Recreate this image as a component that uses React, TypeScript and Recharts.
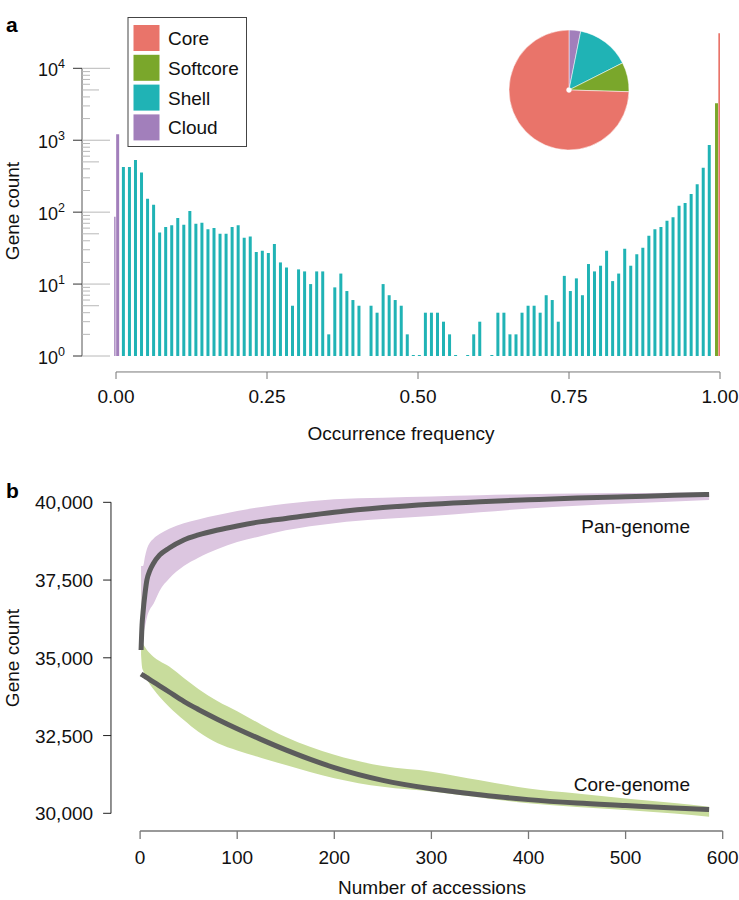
import React from "react";
import {
  ComposedChart,
  Bar,
  Cell,
  Area,
  Line,
  XAxis,
  YAxis,
  ReferenceLine,
  PieChart,
  Pie,
} from "recharts";

const FONT = "'Liberation Sans', Arial, Helvetica, sans-serif";

// ---- panel a: gene counts by occurrence frequency ----
const CATEGORIES = ["Core", "Softcore", "Shell", "Cloud"];
const CATEGORY_COLORS: Record<string, string> = {
  Core: "#e9746a",
  Softcore: "#7aa72b",
  Shell: "#20b3b5",
  Cloud: "#a27fbb",
};

const CLOUD_FREQ = [-0.003, 0.003];
const CLOUD_COUNTS = [86, 1210];

// one bin per 1% of accessions, bins 1..98 (null = empty bin)
const SHELL_COUNTS: (number | null)[] = [
  425, 425, 532, 355, 154, 127, 52, 62, 66, 83,
  67, 104, 69, 71, 58, 60, 50, 50, 62, 66,
  44, 46, 28, 29, 27, 36, 20, 17, 5, 16,
  15, 10, 15, 15, 2, 9, 14, 8, 6, 5,
  null, 5, 4, 10, 7, 6, 5, 2, 1, 1,
  4, 4, 4, 3, 2, 1, null, 1, 2, 3,
  null, 1, 4, 4, 2, 2, 4, 5, 5, 4,
  7, 6, 3, 13, 8, 12, 7, 19, 15, 18,
  29, 11, 14, 31, 18, 26, 32, 47, 58, 62,
  76, 85, 123, 134, 179, 244, 416, 860,
];
const SHELL_FREQ = SHELL_COUNTS.map((_, i) => (i + 1.25) / 100);

const SOFTCORE_FREQ = [0.9945];
const SOFTCORE_COUNTS = [3270];
const CORE_FREQ = [1.0];
const CORE_COUNTS = [30800];

const FREQ_TICKS = [0, 0.25, 0.5, 0.75, 1];
const DECADES = [1, 10, 100, 1000];
const LOG_TICKS = [
  ...DECADES.flatMap((d) => [1, 2, 3, 4, 5, 6, 7, 8, 9].map((m) => m * d)),
  10000,
];

// ---- panel b: pan / core genome accumulation ----
const ACCESSIONS = [
  1, 2, 3, 5, 7, 10, 14, 20, 30, 45, 60, 80, 100, 125, 150, 200, 250, 300,
  350, 400, 450, 500, 550, 586,
];
const PAN_MEAN = [
  35250, 36050, 36450, 37050, 37500, 37800, 38050, 38300, 38530, 38790, 38950,
  39110, 39240, 39380, 39480, 39680, 39830, 39940, 40020, 40080, 40135, 40180,
  40225, 40255,
];
const PAN_MIN = [
  35100, 35500, 35700, 36000, 36300, 36550, 36750, 37150, 37550, 37950, 38220,
  38500, 38720, 38920, 39100, 39330, 39460, 39560, 39680, 39800, 39890, 39960,
  40030, 40075,
];
const PAN_MAX = [
  37950, 37950, 37950, 38250, 38500, 38700, 38840, 38980, 39150, 39330, 39450,
  39590, 39720, 39850, 39950, 40100, 40150, 40190, 40230, 40260, 40280, 40300,
  40310, 40320,
];
const CORE_MEAN = [
  34480, 34460, 34440, 34400, 34360, 34300, 34220, 34100, 33900, 33600, 33340,
  33020, 32720, 32370, 32040, 31470, 31060, 30790, 30600, 30440, 30330, 30250,
  30170, 30120,
];
const CORE_MIN = [
  35100, 34700, 34600, 34450, 34300, 34150, 33980, 33750, 33420, 33000, 32620,
  32250, 32020, 31780, 31550, 31130, 30850, 30700, 30510, 30320, 30200, 30110,
  29990, 29890,
];
const CORE_MAX = [
  37950, 35550, 35450, 35350, 35250, 35150, 35030, 34900, 34720, 34350, 34000,
  33600, 33280, 32850, 32450, 31880, 31520, 31340, 31060, 30800, 30640, 30480,
  30330, 30210,
];
const ACC_TICKS = [0, 100, 200, 300, 400, 500, 600];
const COUNT_TICKS = [30000, 32500, 35000, 37500, 40000];

const barData = [
  ...CLOUD_FREQ.map((f, i) => ({ freq: f, count: CLOUD_COUNTS[i], cat: "Cloud" })),
  ...SHELL_FREQ.map((f, i) => ({ freq: f, count: SHELL_COUNTS[i], cat: "Shell" })),
  ...SOFTCORE_FREQ.map((f, i) => ({ freq: f, count: SOFTCORE_COUNTS[i], cat: "Softcore" })),
  ...CORE_FREQ.map((f, i) => ({ freq: f, count: CORE_COUNTS[i], cat: "Core" })),
].filter((d) => d.count != null);

const total = (a: (number | null)[]) => a.reduce((s: number, v) => s + (v ?? 0), 0);
const pieData = [
  { name: "Cloud", value: total(CLOUD_COUNTS) },
  { name: "Shell", value: total(SHELL_COUNTS) },
  { name: "Softcore", value: total(SOFTCORE_COUNTS) },
  { name: "Core", value: total(CORE_COUNTS) },
];

const curveData = ACCESSIONS.map((n, i) => ({
  n,
  pan: PAN_MEAN[i],
  panRange: [PAN_MIN[i], PAN_MAX[i]],
  core: CORE_MEAN[i],
  coreRange: [CORE_MIN[i], CORE_MAX[i]],
}));

function LogTick({ x, y, payload }: any) {
  const v = payload.value;
  const lg = Math.log10(v);
  const exp = Math.round(lg);
  const major = Math.abs(lg - exp) < 1e-9;
  if (major) {
    return (
      <g>
        <line x1={x - 9} x2={x} y1={y} y2={y} stroke="#333" />
        <line x1={x} x2={x + 28} y1={y} y2={y} stroke="#b8b8b8" />
        <text x={x - 17} y={y + 8} textAnchor="end" fontSize={18} fontFamily={FONT} fill="#111">
          10<tspan dy={-8} fontSize={12.5}>{exp}</tspan>
        </text>
      </g>
    );
  }
  const mant = Math.round(v / 10 ** Math.floor(lg + 1e-9));
  return <line x1={x} x2={x + (mant === 5 ? 17 : 8)} y1={y} y2={y} stroke="#b8b8b8" />;
}

function FreqTick({ x, y, payload }: any) {
  return (
    <g>
      <line x1={x} x2={x} y1={y + 16} y2={y + 23} stroke="#777" />
      <text x={x} y={y + 47} textAnchor="middle" fontSize={19} fontFamily={FONT} fill="#111">
        {payload.value.toFixed(2)}
      </text>
    </g>
  );
}

function CountTick({ x, y, payload }: any) {
  return (
    <g>
      <line x1={x - 37} x2={x - 29} y1={y} y2={y} stroke="#222" />
      <text x={x - 47} y={y + 7} textAnchor="end" fontSize={19} fontFamily={FONT} fill="#111">
        {payload.value.toLocaleString("en-US")}
      </text>
    </g>
  );
}

function AccTick({ x, y, payload }: any) {
  return (
    <text x={x} y={y + 25} textAnchor="middle" fontSize={19} fontFamily={FONT} fill="#111">
      {payload.value}
    </text>
  );
}

export default function App() {
  return (
    <div style={{ position: "absolute", left: 0, top: 0, width: 739, height: 900, background: "#fff" }}>
      {/* a: frequency histogram */}
      <div style={{ position: "absolute", left: 0, top: 0 }}>
        <ComposedChart width={739} height={460} data={barData} margin={{ top: 20, right: 14, bottom: 44, left: 22 }}>
          <XAxis
            type="number"
            dataKey="freq"
            domain={[-0.003, 1]}
            allowDataOverflow
            padding={{ left: 32.2, right: 5 }}
            ticks={FREQ_TICKS}
            interval={0}
            tick={<FreqTick />}
            tickSize={0}
            tickMargin={0}
            axisLine={false}
            tickLine={false}
            height={60}
          />
          <YAxis
            type="number"
            scale="log"
            domain={[1, 46950]}
            allowDataOverflow
            ticks={LOG_TICKS}
            interval={0}
            tick={<LogTick />}
            tickSize={0}
            tickMargin={0}
            axisLine={false}
            tickLine={false}
            width={60}
          />
          <ReferenceLine segment={[{ x: -0.0563, y: 1 }, { x: -0.0563, y: 10000 }]} stroke="#555" ifOverflow="visible" />
          <ReferenceLine segment={[{ x: 0, y: 0.6 }, { x: 1, y: 0.6 }]} stroke="#777" ifOverflow="visible" />
          <Bar dataKey="count" barSize={3} minPointSize={1} isAnimationActive={false}>
            {barData.map((d, i) => (
              <Cell key={i} fill={CATEGORY_COLORS[d.cat]} />
            ))}
          </Bar>
        </ComposedChart>
      </div>

      {/* inset pie */}
      <div style={{ position: "absolute", left: 499, top: 20 }}>
        <PieChart width={140} height={140}>
          <Pie
            data={pieData}
            dataKey="value"
            cx="50%"
            cy="50%"
            innerRadius={2.5}
            outerRadius={60}
            startAngle={90}
            endAngle={-270}
            stroke="#fff"
            strokeWidth={0.5}
            isAnimationActive={false}
          >
            {pieData.map((d) => (
              <Cell key={d.name} fill={CATEGORY_COLORS[d.name]} />
            ))}
          </Pie>
        </PieChart>
      </div>

      {/* b: accumulation curves */}
      <div style={{ position: "absolute", left: 0, top: 470 }}>
        <ComposedChart width={739} height={430} data={curveData} margin={{ top: 12.1, right: 16.3, bottom: 19, left: 40.1 }}>
          <XAxis
            type="number"
            dataKey="n"
            domain={[0, 600]}
            ticks={ACC_TICKS}
            interval={0}
            tick={<AccTick />}
            tickSize={8}
            tickMargin={0}
            axisLine={{ stroke: "#777", strokeWidth: 1.3 }}
            tickLine={{ stroke: "#777", strokeWidth: 1.3 }}
            height={50}
          />
          <YAxis
            type="number"
            domain={[29431, 40650]}
            allowDataOverflow
            ticks={COUNT_TICKS}
            interval={0}
            tick={<CountTick />}
            tickSize={0}
            tickMargin={0}
            axisLine={false}
            tickLine={false}
            width={100}
          />
          <ReferenceLine segment={[{ x: -30, y: 30000 }, { x: -30, y: 40000 }]} stroke="#222" ifOverflow="visible" />
          <Area type="monotone" dataKey="panRange" stroke="none" fill="#dcc6e0" fillOpacity={1} isAnimationActive={false} />
          <Area type="monotone" dataKey="coreRange" stroke="none" fill="#c8dc9c" fillOpacity={1} isAnimationActive={false} />
          <Line type="monotone" dataKey="pan" stroke="#5c5c5c" strokeWidth={5} dot={false} isAnimationActive={false} />
          <Line type="monotone" dataKey="core" stroke="#5c5c5c" strokeWidth={5} dot={false} isAnimationActive={false} />
        </ComposedChart>
      </div>

      {/* labels and legend */}
      <svg width={739} height={900} style={{ position: "absolute", left: 0, top: 0, pointerEvents: "none" }} fontFamily={FONT}>
        <text x={6} y={32} fontSize={21} fontWeight="bold" fill="#000">a</text>
        <text x={6} y={498} fontSize={21} fontWeight="bold" fill="#000">b</text>
        <text transform="translate(19 211) rotate(-90)" textAnchor="middle" fontSize={19} fill="#111">Gene count</text>
        <text transform="translate(19 658) rotate(-90)" textAnchor="middle" fontSize={19} fill="#111">Gene count</text>
        <text x={401} y={440} textAnchor="middle" fontSize={19} fill="#111">Occurrence frequency</text>
        <text x={432} y={894} textAnchor="middle" fontSize={19} fill="#111">Number of accessions</text>
        <text x={690} y={533} textAnchor="end" fontSize={19} fill="#111">Pan-genome</text>
        <text x={690} y={791} textAnchor="end" fontSize={19} fill="#111">Core-genome</text>

        <rect x={128} y={17.5} width={118.5} height={129} fill="#fff" stroke="#444" />
        {CATEGORIES.map((c, i) => (
          <g key={c}>
            <rect x={133.5} y={25 + i * 29.8} width={26} height={26} fill={CATEGORY_COLORS[c]} />
            <text x={168} y={45 + i * 29.8} fontSize={19} fill="#111">{c}</text>
          </g>
        ))}
      </svg>
    </div>
  );
}
